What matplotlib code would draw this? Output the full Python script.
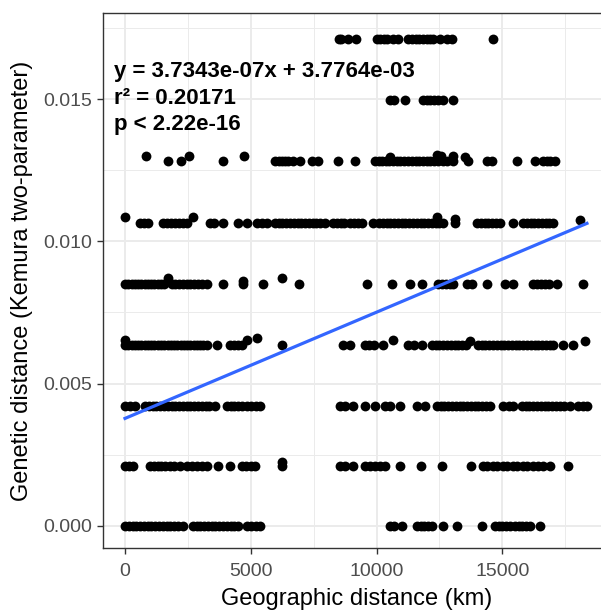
import matplotlib
matplotlib.use("Agg")
import matplotlib.pyplot as plt
from matplotlib.ticker import MultipleLocator

plt.rcParams['font.family'] = ['Liberation Sans', 'DejaVu Sans']

# discrete genetic-distance levels
levels = [0.0, 0.00211, 0.00422, 0.00636, 0.00850, 0.01066, 0.01283, 0.01497, 0.01711]

x_lvl0 = [0, 150, 300, 450, 600, 750, 900, 1050, 1200, 1350, 1500, 1650, 1800,
          1950, 2100, 2306, 2703, 2850, 3000, 3150, 3300, 3458, 3577, 3750, 3900,
          4050, 4200, 4350, 4492, 4850, 5000, 5200, 5366, 10534, 10700, 11011,
          11607, 11750, 11900, 12050, 12203, 12640, 13197, 14191, 14708, 14850,
          15000, 15150, 15300, 15500, 15650, 15800, 15950, 16099, 16497]
x_lvl1 = [0, 160, 318, 994, 1150, 1300, 1450, 1600, 1789, 1950, 2186, 2464, 2650,
          2862, 3050, 3260, 3697, 4174, 4651, 4800, 5000, 5168, 6241, 8546, 8750,
          9063, 9540, 9750, 9938, 10150, 10336, 10931, 11766, 12601, 13753, 14231,
          14400, 14628, 14800, 15025, 15200, 15423, 15600, 15820, 16000, 16218,
          16400, 16600, 16894, 17609]
x_lvl2 = [0, 200, 397, 795, 950, 1100, 1250, 1400, 1550, 1700, 1850, 2000, 2150,
          2300, 2450, 2600, 2750, 2900, 3050, 3200, 3350, 3577, 4055, 4200, 4350,
          4500, 4650, 4850, 5000, 5200, 5366, 8546, 8750, 9063, 9540, 9938, 10336,
          10550, 10931, 11607, 11925, 12402, 12550, 12700, 12850, 13000, 13150,
          13300, 13450, 13600, 13750, 13900, 14050, 14200, 14350, 14509, 15025,
          15250, 15423, 15780, 15930, 16080, 16230, 16380, 16530, 16680, 16830,
          16980, 17130, 17280, 17450, 17689, 18007, 18200, 18364]
x_lvl3 = [0, 130, 260, 390, 520, 650, 780, 910, 1040, 1170, 1300, 1430, 1560,
          1690, 1820, 1950, 2080, 2210, 2340, 2470, 2600, 2730, 2860, 2990, 3120,
          3260, 3657, 4174, 4350, 4500, 4650, 6241, 8666, 8944, 9540, 9700, 9898,
          10255, 11249, 11500, 11806, 12203, 12350, 12500, 12650, 12800, 12950,
          13100, 13250, 13400, 13550, 14032, 14180, 14330, 14480, 14630, 14780,
          14930, 15080, 15230, 15380, 15530, 15680, 15830, 15980, 16130, 16280,
          16430, 16580, 16730, 16880, 17030, 17411, 17808]
x_lvl4 = [0, 130, 260, 390, 520, 650, 780, 910, 1040, 1170, 1300, 1430, 1560,
          1850, 2000, 2150, 2300, 2450, 2600, 2750, 2900, 3050, 3260, 3896, 4690,
          5486, 6916, 9620, 10613, 11329, 11806, 12442, 12600, 12750, 12900,
          13038, 13594, 13793, 14390, 15105, 15423, 16218, 16380, 16540, 16700,
          16860, 17172, 18206]
x_lvl5 = [596, 750, 914, 1510, 1660, 1828, 1990, 2146, 2300, 2464, 3379, 3550,
          3896, 4492, 4850, 5247, 5450, 5645, 5963, 6110, 6260, 6410, 6560, 6710,
          6860, 7010, 7160, 7310, 7460, 7610, 7760, 7950, 8268, 8420, 8570, 8720,
          8944, 9100, 9250, 9421, 9858, 10100, 10255, 10400, 10550, 10700, 10850,
          11000, 11150, 11300, 11450, 11600, 11750, 11900, 12050, 12200, 12350,
          12500, 12641, 13118, 13992, 14150, 14300, 14450, 14600, 14750, 14906,
          15423, 15820, 15970, 16120, 16270, 16420, 16570, 16720, 16870, 17014]
x_lvl6 = [1709, 2226, 3896, 5963, 6110, 6241, 6380, 6479, 6678, 6956, 7433, 7672,
          8467, 9143, 9938, 10080, 10215, 10360, 10500, 10650, 10812, 10950,
          11100, 11250, 11400, 11550, 11700, 11846, 12000, 12124, 12280, 12430,
          12641, 12800, 13038, 13634, 14390, 14588, 15582, 16298, 16616, 16760,
          16894, 17093]
x_lvl7 = [10534, 10700, 11130, 11846, 11990, 12140, 12290, 12440, 12641, 13038]
x_lvl8 = [8500, 8600, 8864, 9182, 10017, 10150, 10300, 10415, 10653, 10852,
          11249, 11400, 11550, 11700, 11850, 12000, 12124, 12243, 12521, 12800,
          12998, 14628]

# points sitting slightly off the main levels
x_off = [0, 2703, 1709, 4690, 6241, 0, 4850, 5247, 10653, 13714, 18285, 12402,
         13118, 18086, 835, 2544, 4730, 10534, 12402, 12550, 13038, 13515, 6241]
y_off = [0.01085, 0.01085, 0.00870, 0.00860, 0.00870, 0.00655, 0.00655, 0.00660,
         0.00655, 0.00650, 0.00650, 0.01085, 0.01080, 0.01075, 0.01300, 0.01300,
         0.01300, 0.01295, 0.01305, 0.01300, 0.01300, 0.01295, 0.00225]

slope = 3.7343e-07
intercept = 3.7764e-03
fit_x = [0, 18364]

fig = plt.figure(figsize=(6.01, 6.10), dpi=100)
ax = fig.add_axes([103/601, 62/610, (611-103)/601, (548-13)/610])

all_x = [x_lvl0, x_lvl1, x_lvl2, x_lvl3, x_lvl4, x_lvl5, x_lvl6, x_lvl7, x_lvl8]
for lv, xs in zip(levels, all_x):
    ax.scatter(xs, [lv]*len(xs), s=50, c='black', linewidths=0, zorder=3)
ax.scatter(x_off, y_off, s=50, c='black', linewidths=0, zorder=3)

ax.plot(fit_x, [intercept + slope*v for v in fit_x], color='#3366FF', lw=2.3, zorder=4)

ax.set_xlim(-875, 19320)
ax.set_ylim(-0.00078, 0.01803)
ax.xaxis.set_major_locator(MultipleLocator(5000))
ax.xaxis.set_minor_locator(MultipleLocator(2500))
ax.yaxis.set_major_locator(MultipleLocator(0.005))
ax.yaxis.set_minor_locator(MultipleLocator(0.0025))
ax.set_yticks([0, 0.005, 0.010, 0.015])
ax.set_yticklabels(['0.000', '0.005', '0.010', '0.015'])
ax.grid(which='major', color='#EBEBEB', lw=1.4, zorder=0)
ax.grid(which='minor', color='#EBEBEB', lw=0.7, zorder=0)
ax.set_axisbelow(True)
ax.tick_params(which='minor', length=0)
ax.tick_params(which='major', length=4.5, width=1.0, color='#333333',
               labelsize=14, labelcolor='#4D4D4D', pad=3)
ax.tick_params(axis='x', which='major', pad=6)
for s in ['left', 'bottom', 'top']:
    ax.spines[s].set_color('#333333')
    ax.spines[s].set_linewidth(1.0)
ax.spines['right'].set_visible(False)

ax.set_xlabel('Geographic distance (km)', fontsize=17, labelpad=6)
ax.set_ylabel('Genetic distance (Kemura two-parameter)', fontsize=17, labelpad=8)

ax.text(0.0225, 0.91, 'y = 3.7343e-07x + 3.7764e-03\nr² = 0.20171\np < 2.22e-16',
        transform=ax.transAxes, fontsize=16, fontweight='bold', va='top',
        ha='left', linespacing=1.35)

fig.savefig('out.png', dpi=100)
